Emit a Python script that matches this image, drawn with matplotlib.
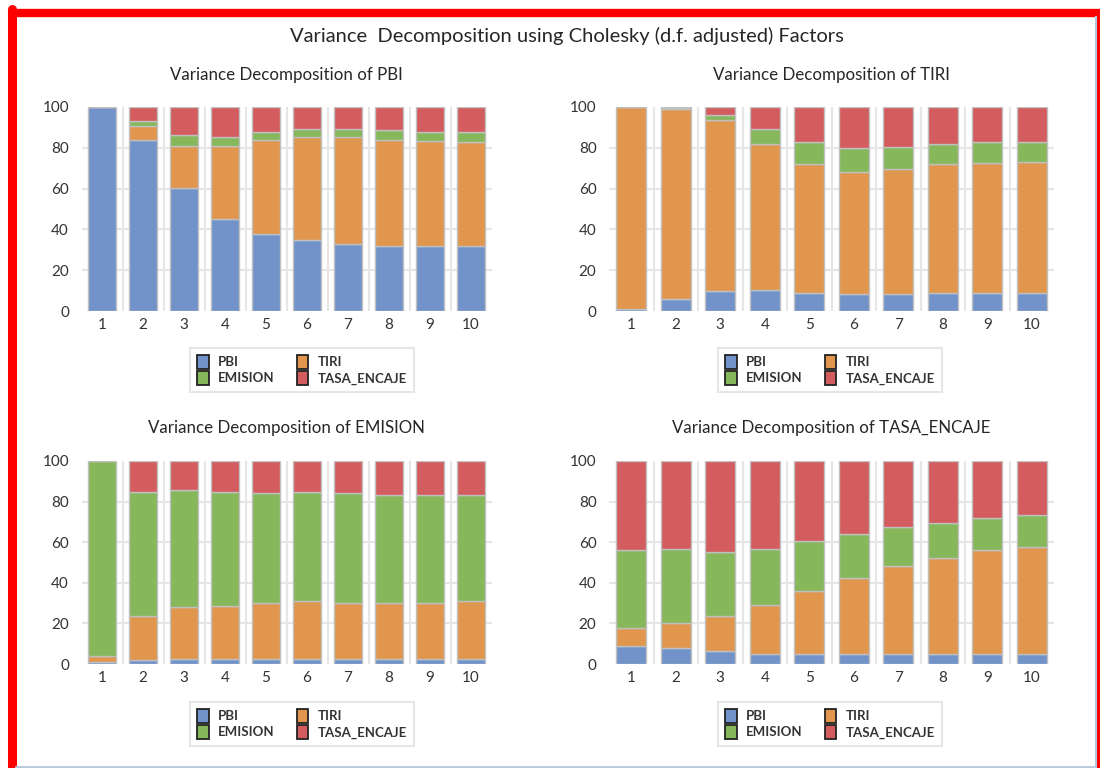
import matplotlib
matplotlib.use("Agg")
from matplotlib import pyplot as plt
from matplotlib.patches import Patch
from matplotlib.lines import Line2D
import numpy as np

plt.rcParams['font.family'] = ['Lato', 'DejaVu Sans']

periods = [1, 2, 3, 4, 5, 6, 7, 8, 9, 10]
shocks = ["PBI", "TIRI", "EMISION", "TASA_ENCAJE"]
colors = ["#7193ca", "#e0964d", "#86b85b", "#d35c5f"]

# variance decomposition of PBI
pbi_pbi = [100.0, 83.9, 60.4, 45.1, 37.8, 34.9, 32.7, 32.1, 32.1, 32.1]
pbi_tiri = [0.0, 6.6, 20.7, 36.0, 46.2, 50.6, 52.8, 51.9, 51.1, 50.5]
pbi_emis = [0.0, 2.4, 5.1, 4.4, 3.7, 3.6, 3.6, 4.7, 4.6, 5.1]
pbi_tasa = [0.0, 7.1, 13.8, 14.5, 12.3, 10.9, 10.9, 11.3, 12.2, 12.3]

# variance decomposition of TIRI
tiri_pbi = [1.0, 6.1, 9.7, 10.5, 9.0, 8.4, 8.4, 9.0, 9.0, 9.0]
tiri_tiri = [99.0, 93.1, 83.7, 71.2, 62.9, 59.9, 61.2, 62.9, 63.5, 64.2]
tiri_emis = [0.0, 0.3, 2.8, 7.6, 10.7, 11.6, 11.0, 10.0, 10.1, 9.4]
tiri_tasa = [0.0, 0.5, 3.8, 10.7, 17.4, 20.1, 19.4, 18.1, 17.4, 17.4]

# variance decomposition of EMISION
emis_pbi = [1.0, 2.0, 2.6, 2.6, 2.6, 2.6, 2.6, 2.6, 2.6, 2.6]
emis_tiri = [3.1, 21.5, 25.4, 26.0, 27.5, 28.2, 27.5, 27.5, 27.5, 28.2]
emis_emis = [95.9, 61.4, 57.9, 56.3, 54.1, 54.1, 54.1, 53.3, 53.3, 52.6]
emis_tasa = [0.0, 15.1, 14.1, 15.1, 15.8, 15.1, 15.8, 16.6, 16.6, 16.6]

# variance decomposition of TASA_ENCAJE
tasa_pbi = [9.0, 7.9, 6.3, 4.8, 4.8, 4.8, 4.8, 4.8, 4.8, 4.8]
tasa_tiri = [8.8, 12.2, 17.2, 24.5, 31.1, 37.5, 43.4, 47.5, 51.3, 52.6]
tasa_emis = [38.3, 36.6, 31.9, 27.4, 24.5, 21.7, 19.4, 17.4, 15.9, 16.1]
tasa_tasa = [43.9, 43.3, 44.6, 43.3, 39.6, 36.0, 32.4, 30.3, 28.0, 26.5]

panels = [
    ("Variance Decomposition of PBI", [pbi_pbi, pbi_tiri, pbi_emis, pbi_tasa]),
    ("Variance Decomposition of TIRI", [tiri_pbi, tiri_tiri, tiri_emis, tiri_tasa]),
    ("Variance Decomposition of EMISION", [emis_pbi, emis_tiri, emis_emis, emis_tasa]),
    ("Variance Decomposition of TASA_ENCAJE", [tasa_pbi, tasa_tiri, tasa_emis, tasa_tasa]),
]

W, H = 1100, 768
fig = plt.figure(figsize=(11, 7.68), dpi=100)

# axes boxes in pixels: left, right, y of 0, y of 100
boxes = [(81.5, 491.5, 311, 107), (609, 1054, 311, 107),
         (81.5, 491.5, 664, 461), (609, 1054, 664, 461)]
legend_centers = [(302, 370), (830, 370), (302, 724), (830, 724)]
title_y = [75, 75, 428, 428]

for (title, series), (x0, x1, yb, yt), (lx, ly), ty in zip(panels, boxes, legend_centers, title_y):
    ax = fig.add_axes([x0 / W, 1 - yb / H, (x1 - x0) / W, (yb - yt) / H])
    x = np.array(periods)
    bottom = np.zeros(len(periods))
    for vals, col, name in zip(series, colors, shocks):
        ax.bar(x, vals, bottom=bottom, width=0.68, color=col,
               edgecolor="#c0c0c0", linewidth=1.0, label=name, zorder=3)
        bottom += np.array(vals)
    ax.set_xlim(0.5, 10.5)
    ax.set_ylim(0, 100)
    ax.set_yticks([0, 20, 40, 60, 80, 100])
    ax.set_xticks(periods)
    ax.tick_params(length=0, labelsize=11, colors="#333333", pad=9)
    ax.tick_params(axis="x", pad=5)
    for v in [20, 40, 60, 80]:
        ax.axhline(v, color="#e6e6e6", lw=1.5, zorder=1)
    ax.vlines(np.arange(1.5, 10.5, 1), 0, 100, color="#e6e6e6", lw=1.5, zorder=1)
    for s in ax.spines.values():
        s.set_visible(False)
    fig.text((x0 + x1) / 2 / W, 1 - ty / H, title, ha="center", va="center",
             fontsize=12.2, color="#262626")
    handles = [Patch(facecolor=colors[i], edgecolor="#222222", linewidth=1.3, label=shocks[i])
               for i in [0, 2, 1, 3]]
    leg = fig.legend(handles=handles, ncol=2, loc="center",
                     bbox_to_anchor=(lx / W, 1 - ly / H),
                     prop={"size": 9.5, "weight": "bold"},
                     frameon=True, fancybox=False, handlelength=0.85, handleheight=1.3,
                     handletextpad=0.7, columnspacing=1.7, labelspacing=0.12,
                     borderpad=0.55, borderaxespad=0)
    leg.get_frame().set_edgecolor("#e0e0e0")
    leg.get_frame().set_linewidth(1.5)
    for t in leg.get_texts():
        t.set_color("#333333")

fig.text(567 / W, 1 - 36 / H, "Variance  Decomposition using Cholesky (d.f. adjusted) Factors",
         ha="center", va="center", fontsize=14.5, color="#262626")

# frame around the picture
fig.add_artist(Line2D([11.5 / W, 11.5 / W], [0, 1 - 9 / H], color="red", lw=6.5,
                      transform=fig.transFigure, solid_capstyle="round"))
fig.add_artist(Line2D([11.5 / W, 1], [1 - 13 / H, 1 - 13 / H], color="red", lw=6,
                      transform=fig.transFigure, solid_capstyle="round"))
fig.add_artist(Line2D([1098.5 / W, 1098.5 / W], [0, 1 - 13 / H], color="red", lw=3,
                      transform=fig.transFigure))
fig.add_artist(Line2D([1095.5 / W, 1095.5 / W], [0, 1 - 17 / H], color="#b8c8dc", lw=1.5,
                      transform=fig.transFigure))
fig.add_artist(Line2D([16 / W, 1095 / W], [1.5 / H, 1.5 / H], color="#b8c8dc", lw=2,
                      transform=fig.transFigure))

fig.savefig("out.png", dpi=100)
